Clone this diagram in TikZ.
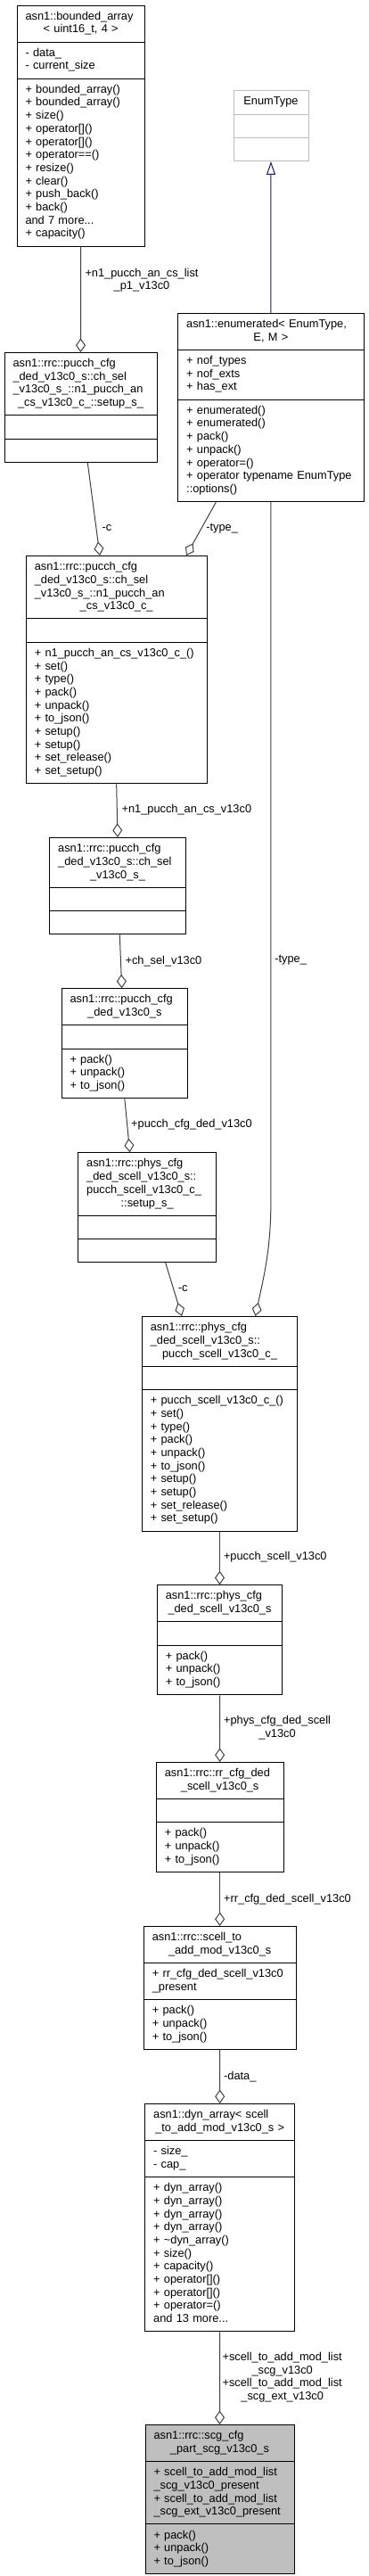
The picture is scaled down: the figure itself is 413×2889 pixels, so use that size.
\documentclass[tikz,border=0pt]{standalone}
\usepackage{fontspec}
\setmainfont{Liberation Sans}
\usetikzlibrary{shapes.multipart, arrows.meta, positioning}
\definecolor{grey75}{HTML}{BFBFBF}
\definecolor{grey25}{HTML}{404040}
\definecolor{midblue}{HTML}{191970}
\newcommand{\lastrow}[1]{\hbox to\hsize{\hss#1\hss}}

\begin{document}
\begin{tikzpicture}[x=1pt, y=-1pt,
      cls/.style={draw, line width=1pt, rectangle split, rectangle split parts=3,
                  fill=white, align=left, inner xsep=9.5pt, inner ysep=5.3pt,
                  font=\fontsize{12.8}{14.7}\selectfont, anchor=north},
      undoc/.style={cls, draw=grey75},
      root/.style={cls, fill=grey75},
      agg/.style={draw=grey25, line width=1pt, -{Diamond[open, length=15.5pt, width=11pt]}},
      isa/.style={draw=midblue, line width=1pt, -{Triangle[open, length=14.7pt, width=10pt]}},
      rel/.style={font=\fontsize{12.8}{14.7}\selectfont, align=center, inner sep=0pt, anchor=west}
    ]
    \useasboundingbox (0,0) rectangle (413,2889);

    \node[cls, text width=124.3pt] (bnd) at (90.65, 5.7) {\strut asn1::bounded\_array\\\lastrow{< uint16\_t, 4 >\strut}
      \nodepart{two}\strut - data\_\\- current\_size\strut
      \nodepart{three}\strut + bounded\_array()\\+ bounded\_array()\\+ size()\\+ operator[]()\\+ operator[]()\\+ operator==()\\+ resize()\\+ clear()\\+ push\_back()\\+ back()\\and 7 more...\\+ capacity()\strut};
    \node[undoc, text width=65pt] (enumtype) at (304, 101.3) {\lastrow{EnumType\strut}
      \nodepart{two}\strut
      \nodepart{three}\strut};
    \node[cls, text width=189.3pt] (enm) at (303.85, 351) {\strut asn1::enumerated< EnumType,\\\lastrow{E, M >\strut}
      \nodepart{two}\strut + nof\_types\\+ nof\_exts\\+ has\_ext\strut
      \nodepart{three}\strut + enumerated()\\+ enumerated()\\+ pack()\\+ unpack()\\+ operator=()\\+ operator typename EnumType\\::options()\strut};
    \node[cls, text width=152pt] (setupc) at (90.5, 395) {\strut asn1::rrc::pucch\_cfg\\\_ded\_v13c0\_s::ch\_sel\\\_v13c0\_s\_::n1\_pucch\_an\\\lastrow{\_cs\_v13c0\_c\_::setup\_s\_\strut}
      \nodepart{two}\strut
      \nodepart{three}\strut};
    \node[cls, text width=183.7pt] (anc) at (130.65, 623) {\strut asn1::rrc::pucch\_cfg\\\_ded\_v13c0\_s::ch\_sel\\\_v13c0\_s\_::n1\_pucch\_an\\\lastrow{\_cs\_v13c0\_c\_\strut}
      \nodepart{two}\strut
      \nodepart{three}\strut + n1\_pucch\_an\_cs\_v13c0\_c\_()\\+ set()\\+ type()\\+ pack()\\+ unpack()\\+ to\_json()\\+ setup()\\+ setup()\\+ set\_release()\\+ set\_setup()\strut};
    \node[cls, text width=133.6pt] (chsel) at (132, 939) {\strut asn1::rrc::pucch\_cfg\\\_ded\_v13c0\_s::ch\_sel\\\lastrow{\_v13c0\_s\_\strut}
      \nodepart{two}\strut
      \nodepart{three}\strut};
    \node[cls, text width=122.7pt] (pucchded) at (139.85, 1108.3) {\strut asn1::rrc::pucch\_cfg\\\lastrow{\_ded\_v13c0\_s\strut}
      \nodepart{two}\strut
      \nodepart{three}\strut + pack()\\+ unpack()\\+ to\_json()\strut};
    \node[cls, text width=136pt] (physsetup) at (165.2, 1292.3) {\strut asn1::rrc::phys\_cfg\\\_ded\_scell\_v13c0\_s::\\pucch\_scell\_v13c0\_c\_\\\lastrow{::setup\_s\_\strut}
      \nodepart{two}\strut
      \nodepart{three}\strut};
    \node[cls, text width=155.4pt] (scellc) at (246.5, 1476) {\strut asn1::rrc::phys\_cfg\\\_ded\_scell\_v13c0\_s::\\\lastrow{pucch\_scell\_v13c0\_c\_\strut}
      \nodepart{two}\strut
      \nodepart{three}\strut + pucch\_scell\_v13c0\_c\_()\\+ set()\\+ type()\\+ pack()\\+ unpack()\\+ to\_json()\\+ setup()\\+ setup()\\+ set\_release()\\+ set\_setup()\strut};
    \node[cls, text width=121.4pt] (physded) at (246.5, 1777.3) {\strut asn1::rrc::phys\_cfg\\\lastrow{\_ded\_scell\_v13c0\_s\strut}
      \nodepart{two}\strut
      \nodepart{three}\strut + pack()\\+ unpack()\\+ to\_json()\strut};
    \node[cls, text width=123.7pt] (rrded) at (246.65, 1976) {\strut asn1::rrc::rr\_cfg\_ded\\\lastrow{\_scell\_v13c0\_s\strut}
      \nodepart{two}\strut
      \nodepart{three}\strut + pack()\\+ unpack()\\+ to\_json()\strut};
    \node[cls, text width=151.7pt] (scelladd) at (246.65, 2160) {\strut asn1::rrc::scell\_to\\\lastrow{\_add\_mod\_v13c0\_s\strut}
      \nodepart{two}\strut + rr\_cfg\_ded\_scell\_v13c0\\\_present\strut
      \nodepart{three}\strut + pack()\\+ unpack()\\+ to\_json()\strut};
    \node[cls, text width=149pt] (dyn) at (246.7, 2359) {\strut asn1::dyn\_array< scell\\\lastrow{\_to\_add\_mod\_v13c0\_s >\strut}
      \nodepart{two}\strut - size\_\\- cap\_\strut
      \nodepart{three}\strut + dyn\_array()\\+ dyn\_array()\\+ dyn\_array()\\+ dyn\_array()\\+ \textasciitilde dyn\_array()\\+ size()\\+ capacity()\\+ operator[]()\\+ operator[]()\\+ operator=()\\and 13 more...\strut};
    \node[root, text width=148pt] (scg) at (246.5, 2719) {\strut asn1::rrc::scg\_cfg\\\lastrow{\_part\_scg\_v13c0\_s\strut}
      \nodepart{two}\strut + scell\_to\_add\_mod\_list\\\_scg\_v13c0\_present\\+ scell\_to\_add\_mod\_list\\\_scg\_ext\_v13c0\_present\strut
      \nodepart{three}\strut + pack()\\+ unpack()\\+ to\_json()\strut};

    \draw[isa] (enm.north) -- (enumtype.south);
    \draw[agg] (bnd.south) -- node[rel, pos=0.317, xshift=4.4pt] {+n1\_pucch\_an\_cs\_list\\\_p1\_v13c0} (setupc.north);
    \draw[agg] ([xshift=7.8pt]setupc.south) -- node[rel, pos=0.7, xshift=6.3pt] {-c} ([xshift=-18.65pt]anc.north);
    \draw[agg] ([xshift=-61.55pt]enm.south) -- node[rel, pos=0.494, xshift=5pt] {-type\_} ([xshift=78.35pt]anc.north);
    \draw[agg] (enm.south) -- node[rel, pos=0.653, xshift=4pt] {-type\_} (303.85,1350)
      .. controls (303.85,1400) and (296,1432) .. ([xshift=40pt]scellc.north);
    \draw[agg] (anc.south) -- node[rel, pos=0.49, xshift=4.8pt] {+n1\_pucch\_an\_cs\_v13c0} (chsel.north);
    \draw[agg] ([xshift=2.3pt]chsel.south) -- node[rel, pos=0.49, xshift=4.6pt] {+ch\_sel\_v13c0} ([xshift=-3.15pt]pucchded.north);
    \draw[agg] (pucchded.south) -- node[rel, pos=0.484, xshift=4pt] {+pucch\_cfg\_ded\_v13c0} ([xshift=-19.5pt]physsetup.north);
    \draw[agg] ([xshift=20.5pt]physsetup.south) -- node[rel, pos=0.487, xshift=4.8pt] {-c} ([xshift=-42.5pt]scellc.north);
    \draw[agg] (scellc.south) -- node[rel, pos=0.48, xshift=4pt] {+pucch\_scell\_v13c0} (physded.north);
    \draw[agg] (physded.south) -- node[rel, pos=0.49, xshift=4pt] {+phys\_cfg\_ded\_scell\\\_v13c0} (rrded.north);
    \draw[agg] (rrded.south) -- node[rel, pos=0.5, xshift=4pt] {+rr\_cfg\_ded\_scell\_v13c0} (scelladd.north);
    \draw[agg] (scelladd.south) -- node[rel, pos=0.5, xshift=4pt] {-data\_} (dyn.north);
    \draw[agg] (dyn.south) -- node[rel, pos=0.49, xshift=2.5pt] {+scell\_to\_add\_mod\_list\\\_scg\_v13c0\\+scell\_to\_add\_mod\_list\\\_scg\_ext\_v13c0} (scg.north);
  \end{tikzpicture}
\end{document}
